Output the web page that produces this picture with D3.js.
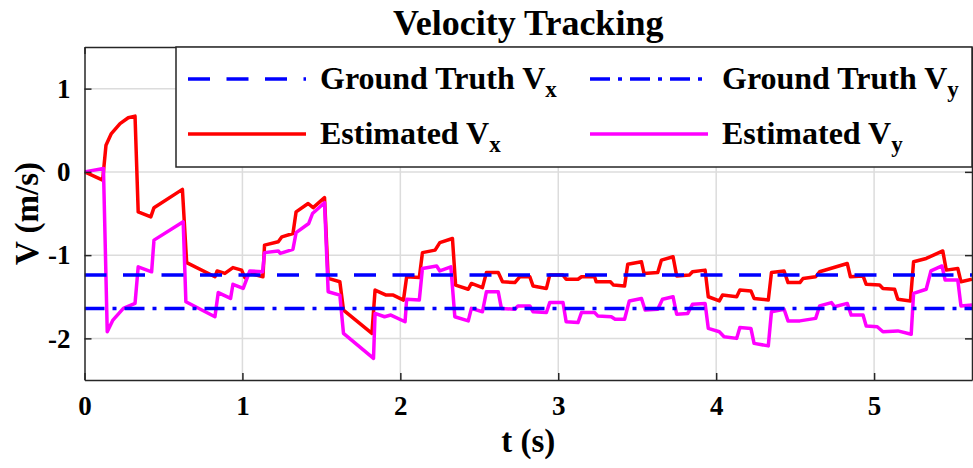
<!DOCTYPE html>
<html>
<head>
<meta charset="utf-8">
<script src="https://cdn.jsdelivr.net/npm/d3@7"></script>
<style>
  body { margin: 0; background: #fff; }
  svg text { font-family: "Liberation Serif", "Times New Roman", serif; font-weight: bold; fill: #000; }
</style>
</head>
<body>
<div id="chart"></div>
<script>
// values
const tVx = [0,0.115,0.136,0.17,0.225,0.277,0.32,0.34,0.42,0.44,0.62,0.647,0.826,0.84,0.889,0.94,0.995,1.015,1.047,1.13,
  1.14,1.227,1.25,1.32,1.34,1.416,1.448,1.52,1.543,1.617,1.64,1.82,1.84,1.91,1.955,2.02,2.04,2.12,2.14,2.22,
  2.25,2.33,2.35,2.43,2.45,2.52,2.545,2.62,2.647,2.725,2.756,2.82,2.84,2.925,2.946,3.03,3.05,3.125,3.147,3.23,
  3.24,3.33,3.35,3.42,3.44,3.527,3.543,3.63,3.653,3.727,3.75,3.83,3.85,3.93,3.95,4.02,4.04,4.13,4.15,4.22,
  4.24,4.33,4.35,4.43,4.455,4.53,4.55,4.63,4.655,4.83,4.85,4.93,4.95,5.035,5.056,5.13,5.15,5.23,5.25,5.33,
  5.435,5.457,5.53,5.55,5.62];
const estVx = [0,-0.1,0.32,0.46,0.58,0.65,0.67,-0.48,-0.54,-0.43,-0.21,-1.09,-1.26,-1.19,-1.22,-1.15,-1.18,-1.27,-1.22,-1.26,
  -0.88,-0.84,-0.78,-0.74,-0.48,-0.38,-0.43,-0.31,-1.28,-1.32,-1.66,-1.94,-1.42,-1.48,-1.48,-1.54,-1.26,-1.27,-0.97,-0.94,
  -0.85,-0.8,-1.36,-1.41,-1.34,-1.39,-1.21,-1.21,-1.32,-1.33,-1.26,-1.26,-1.37,-1.4,-1.24,-1.24,-1.29,-1.29,-1.26,-1.26,
  -1.32,-1.32,-1.36,-1.37,-1.11,-1.08,-1.22,-1.21,-1.06,-1.02,-1.25,-1.24,-1.2,-1.18,-1.5,-1.55,-1.48,-1.5,-1.42,-1.43,
  -1.52,-1.54,-1.21,-1.19,-1.33,-1.33,-1.28,-1.26,-1.2,-1.1,-1.26,-1.25,-1.35,-1.36,-1.4,-1.41,-1.53,-1.55,-1.08,-1.04,
  -0.95,-1.18,-1.16,-1.32,-1.29];

const tVy = [0,0.12,0.144,0.18,0.246,0.32,0.34,0.425,0.44,0.625,0.642,0.826,0.847,0.925,0.94,1.005,1.047,1.128,1.14,1.227,
  1.24,1.32,1.34,1.42,1.444,1.52,1.543,1.617,1.64,1.83,1.84,1.9,1.94,2.03,2.04,2.12,2.14,2.23,2.25,2.32,
  2.345,2.43,2.45,2.52,2.545,2.62,2.64,2.725,2.745,2.82,2.84,2.925,2.946,3.03,3.05,3.125,3.147,3.23,3.25,3.336,
  3.36,3.42,3.45,3.527,3.55,3.63,3.66,3.727,3.75,3.82,3.85,3.93,3.95,4.02,4.05,4.13,4.15,4.22,4.24,4.33,
  4.35,4.43,4.455,4.53,4.63,4.655,4.73,4.75,4.83,4.855,4.93,4.95,5.02,5.056,5.15,5.235,5.25,5.33,5.36,5.43,
  5.45,5.53,5.55,5.62];
const estVy = [0,0.04,-1.92,-1.78,-1.64,-1.58,-1.14,-1.2,-0.82,-0.6,-1.56,-1.74,-1.45,-1.52,-1.35,-1.4,-1.19,-1.2,-0.97,-0.95,
  -0.98,-0.93,-0.73,-0.62,-0.5,-0.37,-1.44,-1.48,-1.94,-2.24,-1.7,-1.74,-1.72,-1.8,-1.53,-1.54,-1.16,-1.13,-1.19,-1.14,
  -1.74,-1.79,-1.64,-1.68,-1.44,-1.44,-1.64,-1.65,-1.61,-1.61,-1.68,-1.69,-1.57,-1.57,-1.8,-1.81,-1.69,-1.69,-1.73,-1.74,
  -1.77,-1.77,-1.55,-1.52,-1.66,-1.65,-1.53,-1.5,-1.71,-1.7,-1.59,-1.58,-1.88,-1.92,-1.98,-2.0,-1.87,-1.88,-2.06,-2.09,
  -1.68,-1.65,-1.79,-1.79,-1.76,-1.61,-1.57,-1.62,-1.58,-1.72,-1.72,-1.85,-1.86,-1.92,-1.91,-1.95,-1.46,-1.41,-1.19,-1.13,
  -1.3,-1.3,-1.61,-1.6];

const truthVx = -1.24;
const truthVy = -1.64;

const xTicks = [0,1,2,3,4,5];
const yTicks = [-2,-1,0,1];

const margin={top:47,right:1,bottom:88,left:84.5},
    width=973-margin.left-margin.right,
    height=468-margin.top-margin.bottom;

const svg=d3.select("#chart")
    .append("svg")
    .attr("width",973)
    .attr("height",468);

const g=svg.append("g")
    .attr("transform",`translate(${margin.left},${margin.top})`);

const x=d3.scaleLinear().domain([0,5.62]).range([0,width]);
const y=d3.scaleLinear().domain([-2.5,1.5]).range([height,0]);

const fmt=d=>d<0 ? "-"+(-d) : String(d);

// grid
g.append("g")
    .selectAll("line.gx")
    .data(xTicks.slice(1))
    .join("line")
    .attr("x1",d=>x(d)).attr("x2",d=>x(d))
    .attr("y1",0).attr("y2",height)
    .attr("stroke","#dcdcdc").attr("stroke-width",1.5);
g.append("g")
    .selectAll("line.gy")
    .data(yTicks)
    .join("line")
    .attr("x1",0).attr("x2",width)
    .attr("y1",d=>y(d)).attr("y2",d=>y(d))
    .attr("stroke","#dcdcdc").attr("stroke-width",1.5);

// curves
g.append("clipPath").attr("id","clip")
    .append("rect").attr("width",width).attr("height",height);
const plot=g.append("g").attr("clip-path","url(#clip)");

const line=d3.line().x(d=>x(d[0])).y(d=>y(d[1]));
plot.append("path")
    .datum(tVx.map((t,i)=>[t,estVx[i]]))
    .attr("d",line).attr("fill","none")
    .attr("stroke","#ff0000").attr("stroke-width",3.5).attr("stroke-linejoin","round");
plot.append("path")
    .datum(tVy.map((t,i)=>[t,estVy[i]]))
    .attr("d",line).attr("fill","none")
    .attr("stroke","#ff00ff").attr("stroke-width",3.5).attr("stroke-linejoin","round");

plot.append("line")
    .attr("x1",0).attr("x2",width)
    .attr("y1",y(truthVx)).attr("y2",y(truthVx))
    .attr("stroke","#0000ff").attr("stroke-width",3.5)
    .attr("stroke-dasharray","22,16.5");
plot.append("line")
    .attr("x1",0).attr("x2",width)
    .attr("y1",y(truthVy)).attr("y2",y(truthVy))
    .attr("stroke","#0000ff").attr("stroke-width",3.5)
    .attr("stroke-dasharray","20,8,4,8");

// axes, MATLAB style ticks pointing inward
const axisColor="#262626";
g.append("g")
    .attr("transform",`translate(0,${height})`)
    .call(d3.axisBottom(x).tickValues(xTicks).tickFormat(fmt).tickSizeInner(-7).tickSizeOuter(0).tickPadding(16));
g.append("g")
    .call(d3.axisLeft(y).tickValues(yTicks).tickFormat(fmt).tickSizeInner(-7).tickSizeOuter(0).tickPadding(14));
g.append("g")
    .call(d3.axisTop(x).tickValues(xTicks).tickFormat("").tickSizeInner(-7).tickSizeOuter(0));
g.append("g")
    .attr("transform",`translate(${width},0)`)
    .call(d3.axisRight(y).tickValues(yTicks).tickFormat("").tickSizeInner(-7).tickSizeOuter(0));

g.selectAll(".domain").attr("stroke",axisColor).attr("stroke-width",1.5);
g.selectAll(".tick line").attr("stroke",axisColor).attr("stroke-width",1.5);
g.selectAll(".tick text").attr("font-size",27).attr("fill","#000")
    .style("font-family","'Liberation Serif', serif").style("font-weight","bold");

// labels
svg.append("text")
    .attr("x",margin.left+width/2).attr("y",35)
    .attr("text-anchor","middle").attr("font-size",36)
    .text("Velocity Tracking");
svg.append("text")
    .attr("x",margin.left+width/2).attr("y",452)
    .attr("text-anchor","middle").attr("font-size",33)
    .text("t (s)");
svg.append("text")
    .attr("transform",`translate(38,${margin.top+height/2}) rotate(-90)`)
    .attr("text-anchor","middle").attr("font-size",33)
    .text("V (m/s)");

// legend
const legend=g.append("g");
legend.append("rect")
    .attr("x",176-margin.left).attr("y",0)
    .attr("width",width-(176-margin.left)).attr("height",120)
    .attr("fill","#fff").attr("stroke",axisColor).attr("stroke-width",1.5);

const legendItems=[
  {name:"Ground Truth V",sub:"x",color:"#0000ff",dash:"22,16.5",col:0,row:0},
  {name:"Ground Truth V",sub:"y",color:"#0000ff",dash:"20,8,4,8",col:1,row:0},
  {name:"Estimated V",sub:"x",color:"#ff0000",dash:null,col:0,row:1},
  {name:"Estimated V",sub:"y",color:"#ff00ff",dash:null,col:1,row:1}
];
const colX=[188-margin.left,590-margin.left];
const rowY=[32,87];
legendItems.forEach(function(d){
    const lx=colX[d.col], ly=rowY[d.row];
    legend.append("line")
        .attr("x1",lx).attr("x2",lx+118)
        .attr("y1",ly).attr("y2",ly)
        .attr("stroke",d.color).attr("stroke-width",3.5)
        .attr("stroke-dasharray",d.dash);
    const t=legend.append("text")
        .attr("x",lx+132).attr("y",ly+10)
        .attr("font-size",32)
        .text(d.name);
    t.append("tspan").attr("dy",8).attr("font-size",23).text(d.sub);
});
</script>
</body>
</html>
